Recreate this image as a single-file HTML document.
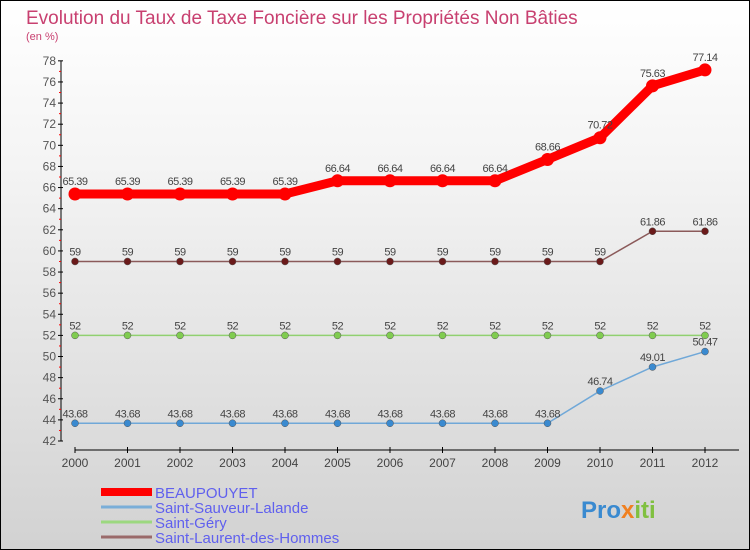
<!DOCTYPE html>
<html><head><meta charset="utf-8"><style>
body{margin:0}
#c{position:relative;width:748px;height:548px;border:1px solid #000;background:linear-gradient(#ffffff,#f4f4f4 30%,#d2d2d2);font-family:"Liberation Sans",sans-serif;overflow:hidden}
</style></head><body>
<div id="c">
<svg id="s" width="748" height="548"></svg>
</div>
<script>
const years=["2000","2001","2002","2003","2004","2005","2006","2007","2008","2009","2010","2011","2012"];
const beau=[65.39,65.39,65.39,65.39,65.39,66.64,66.64,66.64,66.64,68.66,70.72,75.63,77.14];
const ssl=[43.68,43.68,43.68,43.68,43.68,43.68,43.68,43.68,43.68,43.68,46.74,49.01,50.47];
const sg=[52,52,52,52,52,52,52,52,52,52,52,52,52];
const slh=[59,59,59,59,59,59,59,59,59,59,59,61.86,61.86];
const yTicks=[42,44,46,48,50,52,54,56,58,60,62,64,66,68,70,72,74,76,78];
const names=["BEAUPOUYET","Saint-Sauveur-Lalande","Saint-Géry","Saint-Laurent-des-Hommes"];
const NS="http://www.w3.org/2000/svg",s=document.getElementById('s');
const X=i=>74+i*52.5, Y=v=>440-(v-42)*10.56;
function el(t,a,p){const e=document.createElementNS(NS,t);for(const k in a)e.setAttribute(k,a[k]);(p||s).appendChild(e);return e;}
function tx(x,y,str,a){const e=el('text',Object.assign({x:x,y:y},a));e.textContent=str;return e;}
let t=tx(25,23,"Evolution du Taux de Taxe Foncière sur les Propriétés Non Bâties",{'font-size':19,fill:'#c84070'});

t=tx(25,39,"(en %)",{'font-size':11,fill:'#c84070'});

let a=el('line',{x1:60,y1:Y(78),x2:60,y2:Y(42),stroke:'#000'});

yTicks.forEach(v=>{let l=el('line',{x1:57,x2:62,y1:Y(v),y2:Y(v),stroke:'#000'});

let m=el('line',{x1:58,x2:60,y1:Y(v+1),y2:Y(v+1),stroke:'#f00'});
if(v<78){}else m.remove();
let q=tx(55,Y(v)+4,v,{'font-size':12,fill:'#555','text-anchor':'end'});
});
a=el('line',{x1:74,y1:449,x2:738,y2:449,stroke:'#000'});

years.forEach((y,i)=>{let l=el('line',{x1:X(i),x2:X(i),y1:446,y2:452,stroke:'#000'});

let q=tx(X(i),466,y,{'font-size':12,fill:'#444','text-anchor':'middle'});
});
function series(d,col,w,r,dot,nm,thick){
const p=el('polyline',{points:d.map((v,i)=>X(i)+','+Y(v)).join(' '),fill:'none',stroke:col,'stroke-width':w,'stroke-linejoin':'round'});

d.forEach((v,i)=>{const c=el('circle',{cx:X(i),cy:Y(v),r:r,fill:dot,stroke:thick?'none':'#555','stroke-width':0.5});

const q=tx(X(i),Y(v)-(thick?9:6),String(v),{'font-size':11,fill:'#444','text-anchor':'middle','letter-spacing':'-0.5'});
});}
series(slh,'#8b5a5a',1.5,3.5,'#6b1a1a','saint-laurent');
series(sg,'#90d070',1.5,3.5,'#80cc50','saint-gery');
series(ssl,'#70a8d8',1.5,3.5,'#3a8ad0','saint-sauveur');
series(beau,'#f00',9,6.5,'#f00','beaupouyet',true);
const lc=['#f00','#7aaed8','#9cd880','#9a6a6a'],lw=[8,3,3,3];
names.forEach((n,i)=>{const y=493+i*15;
const l=el('line',{x1:100,x2:151,y1:y-2,y2:y-2,stroke:lc[i],'stroke-width':lw[i]});

const q=tx(154,y+4,n,{'font-size':15,fill:'#6060ee'});
});
const g=tx(580,517,"Pro",{'font-size':24,'font-weight':'bold',fill:'#3a8ad0'});

const sp1=el('tspan',{fill:'#f08020'},g);sp1.textContent="x";
const sp2=el('tspan',{fill:'#80c040'},g);sp2.textContent="iti";
</script>
</body></html>
